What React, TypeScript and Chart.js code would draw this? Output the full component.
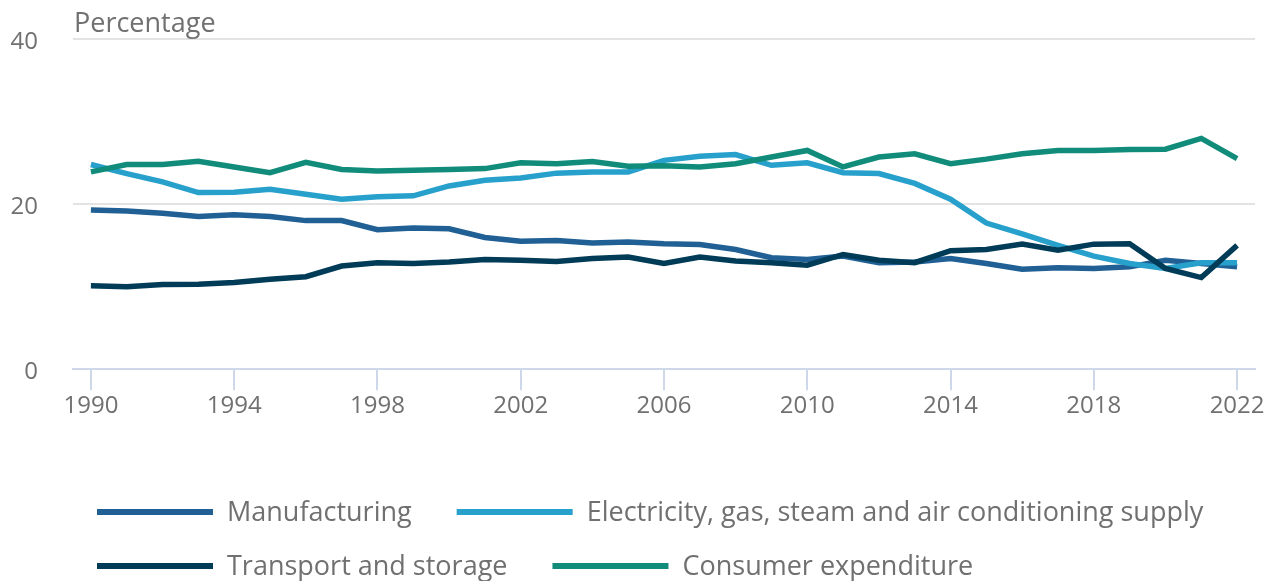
import { useEffect, useRef } from 'react';
import { Chart, registerables } from 'chart.js';

Chart.register(...registerables);

const years = [
  1990, 1991, 1992, 1993, 1994, 1995, 1996, 1997, 1998, 1999, 2000,
  2001, 2002, 2003, 2004, 2005, 2006, 2007, 2008, 2009, 2010, 2011,
  2012, 2013, 2014, 2015, 2016, 2017, 2018, 2019, 2020, 2021, 2022,
];

const manufacturing = [
  19.3, 19.15, 18.9, 18.5, 18.7, 18.5, 18.0, 18.0, 16.9, 17.1, 17.0,
  15.95, 15.5, 15.6, 15.3, 15.4, 15.2, 15.1, 14.5, 13.5, 13.3, 13.7,
  12.9, 13.0, 13.4, 12.8, 12.1, 12.3, 12.2, 12.4, 13.2, 12.8, 12.4,
];

const electricity = [
  24.8, 23.7, 22.7, 21.4, 21.45, 21.8, 21.2, 20.6, 20.9, 21.0, 22.2,
  22.9, 23.15, 23.75, 23.9, 23.9, 25.3, 25.8, 26.0, 24.7, 25.0, 23.8,
  23.7, 22.5, 20.6, 17.7, 16.4, 15.0, 13.7, 12.8, 12.2, 12.9, 12.9,
];

const transport = [
  10.1, 10.0, 10.25, 10.3, 10.5, 10.9, 11.2, 12.5, 12.9, 12.8, 13.0,
  13.3, 13.2, 13.05, 13.4, 13.6, 12.8, 13.6, 13.1, 12.9, 12.6, 13.9,
  13.2, 12.9, 14.35, 14.5, 15.15, 14.4, 15.15, 15.2, 12.2, 11.1, 15.0,
];

const consumer = [
  23.9, 24.8, 24.8, 25.2, 24.5, 23.8, 25.05, 24.2, 24.0, 24.1, 24.2,
  24.3, 25.0, 24.9, 25.15, 24.6, 24.65, 24.5, 24.9, 25.7, 26.5, 24.5,
  25.7, 26.1, 24.9, 25.45, 26.1, 26.5, 26.5, 26.6, 26.65, 27.95, 25.5,
];

const seriesNames = [
  'Manufacturing',
  'Electricity, gas, steam and air conditioning supply',
  'Transport and storage',
  'Consumer expenditure',
];
const seriesColors = ['#206095', '#27a0cc', '#003c57', '#118c7b'];

const axisTitle = 'Percentage';
const xTickYears = [1990, 1994, 1998, 2002, 2006, 2010, 2014, 2018, 2022];
const yTickValues = [0, 20, 40];

const FONT = "'Open Sans', sans-serif";
const TEXT = '#707070';
const AXIS = '#cfd8e9';
const GRID = '#e3e3e3';

const titlePlugin = {
  id: 'cornerTitle',
  afterDraw(chart: any) {
    const ctx = chart.ctx;
    ctx.save();
    ctx.font = `27px ${FONT}`;
    ctx.fillStyle = TEXT;
    ctx.textBaseline = 'middle';
    ctx.textAlign = 'left';
    ctx.fillText(axisTitle, chart.chartArea.left + 1, 24);
    ctx.restore();
  },
};

const legendPlugin = {
  id: 'bottomLegend',
  afterDraw(chart: any) {
    const ctx = chart.ctx;
    const startX = 97;
    const rowY = [512, 566];
    const swatch = 116;
    const textGap = 14;
    const itemGap = 45;
    const maxRight = chart.width - 10;
    ctx.save();
    ctx.font = `27px ${FONT}`;
    ctx.textBaseline = 'middle';
    ctx.textAlign = 'left';
    let x = startX;
    let row = 0;
    chart.data.datasets.forEach((ds: any, i: number) => {
      const tw = ctx.measureText(ds.label).width;
      const w = swatch + textGap + tw;
      if (i > 0 && x + w > maxRight) {
        x = startX;
        row += 1;
      }
      const y = rowY[row] ?? rowY[0] + row * 54;
      ctx.strokeStyle = ds.borderColor;
      ctx.lineWidth = 6;
      ctx.lineCap = 'butt';
      ctx.beginPath();
      ctx.moveTo(x, y);
      ctx.lineTo(x + swatch, y);
      ctx.stroke();
      ctx.fillStyle = TEXT;
      ctx.fillText(ds.label, x + swatch + textGap, y + 1);
      x += w + itemGap;
    });
    ctx.restore();
  },
};

export default function App() {
  const canvasRef = useRef<HTMLCanvasElement | null>(null);

  useEffect(() => {
    if (!canvasRef.current) return;
    const seriesValues = [manufacturing, electricity, transport, consumer];
    const chart = new Chart(canvasRef.current, {
      type: 'line',
      data: {
        datasets: seriesValues.map((vals, i) => ({
          label: seriesNames[i],
          data: years.map((yr, j) => ({ x: yr, y: vals[j] })),
          borderColor: seriesColors[i],
          backgroundColor: seriesColors[i],
          borderWidth: 5.5,
          pointRadius: 0,
          tension: 0,
          fill: false,
          order: 4 - i,
        })),
      },
      options: {
        animation: false,
        responsive: true,
        maintainAspectRatio: false,
        layout: { padding: { left: 10, right: 17, top: 39, bottom: 158 } },
        plugins: {
          legend: { display: false },
          tooltip: { enabled: false },
          title: { display: false },
        },
        scales: {
          x: {
            type: 'linear',
            min: 1989.5,
            max: 2022.5,
            afterBuildTicks: (s: any) => {
              s.ticks = xTickYears.map((v) => ({ value: v }));
            },
            ticks: {
              color: TEXT,
              font: { family: FONT, size: 24 },
              padding: 2,
              maxRotation: 0,
              autoSkip: false,
              callback: (v: any) => String(v),
            },
            grid: {
              drawOnChartArea: false,
              drawTicks: true,
              tickLength: 21,
              color: AXIS,
              lineWidth: 2,
            },
            border: { display: true, color: AXIS, width: 2 },
          },
          y: {
            min: 0,
            max: 40,
            afterBuildTicks: (s: any) => {
              s.ticks = yTickValues.map((v) => ({ value: v }));
            },
            afterFit: (s: any) => {
              s.width = 63;
              s.paddingTop = 0;
              s.paddingBottom = 0;
            },
            ticks: {
              color: TEXT,
              font: { family: FONT, size: 24 },
              padding: 35,
              labelOffset: 3,
              callback: (v: any) => String(v),
            },
            grid: {
              drawTicks: false,
              color: (c: any) => (c.tick && c.tick.value === 0 ? 'rgba(0,0,0,0)' : GRID),
              lineWidth: 2,
            },
            border: { display: false },
          },
        },
      },
      plugins: [titlePlugin, legendPlugin],
    });
    return () => chart.destroy();
  }, []);

  return (
    <div style={{ position: 'fixed', left: 0, top: 0, width: 1272, height: 581 }}>
      <canvas ref={canvasRef} />
    </div>
  );
}
